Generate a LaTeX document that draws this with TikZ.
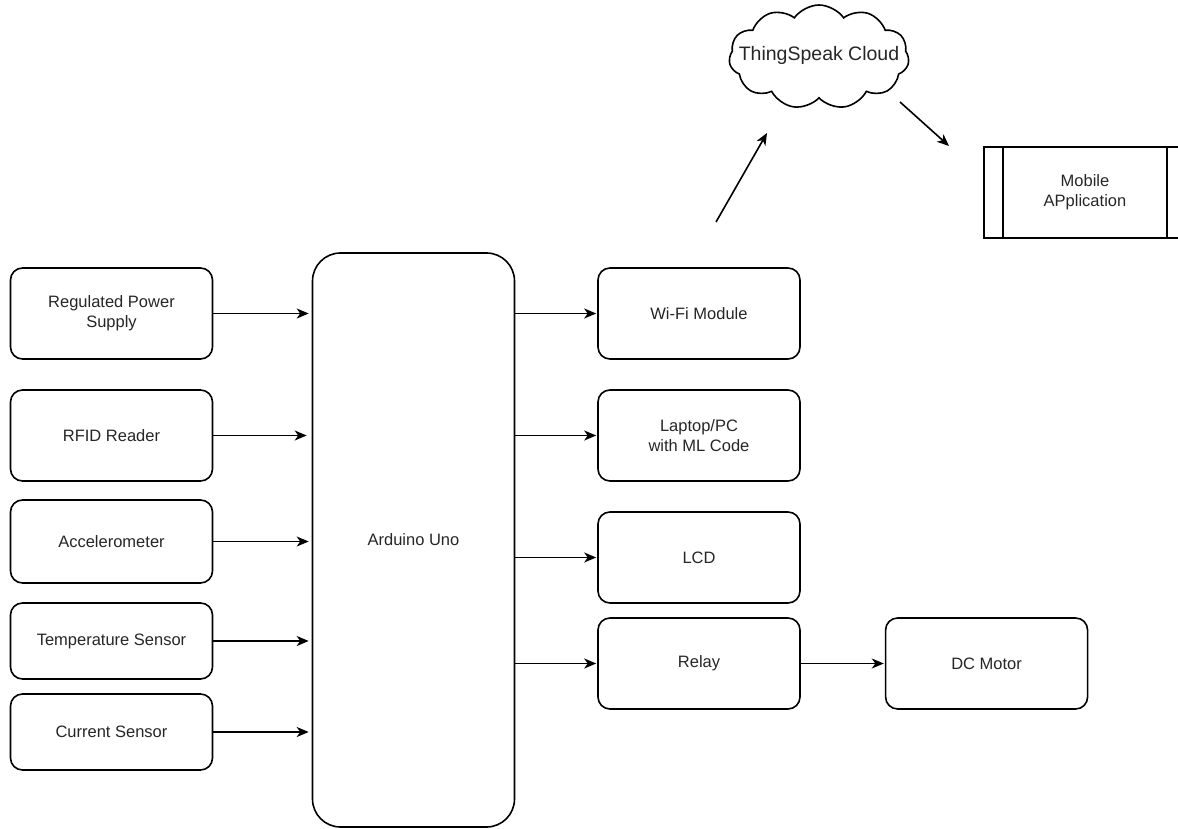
\documentclass[tikz,border=0pt]{standalone}
\usepackage{fontspec}
\setmainfont{Liberation Sans}
\usepackage{tikz}
\usetikzlibrary{arrows.meta,positioning,shapes.symbols}

\begin{document}
\begin{tikzpicture}[
  x=1pt, y=-1pt,
  block/.style={draw, line width=1.6pt, rounded corners=12pt, align=center,
    font=\fontsize{16.5}{20}\selectfont, text=black!85,
    minimum width=202pt, minimum height=91pt, inner sep=2pt},
  small/.style={block, minimum height=76pt},
  mcu/.style={block, rounded corners=28pt, minimum height=574pt},
  procbox/.style={draw, line width=1.6pt, align=center,
    font=\fontsize{16.5}{20}\selectfont, text=black!85,
    minimum width=202pt, minimum height=91pt},
  arrow/.style={-{Stealth[length=12pt, width=10pt, inset=3.5pt]}, line width=1.6pt},
]
\useasboundingbox (0,0) rectangle (1178,829);

% inputs
\node[block] (rps) at (111.5,313.5) {Regulated Power\\ Supply};
\node[block] (rfid) at (111.5,435.5) {RFID Reader};
\node[block, minimum height=83pt] (acc) at (111.5,541.5) {Accelerometer};
\node[small] (temp) at (111.5,641) {Temperature Sensor};
\node[small] (cur) at (111.5,732) {Current Sensor};

% controller
\node[mcu] (uno) at (413.5,540) {Arduino Uno};

% outputs
\node[block] (wifi) at (699,313.5) {Wi-Fi Module};
\node[block] (pc) at (699,435.5) {Laptop/PC\\ with ML Code};
\node[block] (lcd) at (699,557.5) {LCD};
\node[block] (relay) at (699,663.5) {Relay};
\node[block, right=84pt of relay] (motor) {DC Motor};

% cloud side
\node[cloud, draw, line width=1.6pt, cloud puffs=11, cloud puff arc=110, aspect=1.7,
  minimum width=180pt, minimum height=104pt,
  label={[font=\fontsize{19.5}{22}\selectfont, text=black!85, yshift=2pt]center:ThingSpeak Cloud}]
  (cloud) at (819,57) {};
\node[procbox] (app) at (1085,192.5) {Mobile\\ APplication};
\draw[line width=1.6pt] ([xshift=20pt]app.north west) -- ([xshift=20pt]app.south west);
\draw[line width=1.6pt] ([xshift=-20pt]app.north east) -- ([xshift=-20pt]app.south east);

\coordinate (upA) at (716,222);
\coordinate (upB) at (767,133);
\coordinate (dnA) at (900,102);
\coordinate (dnB) at (949,146);

\draw[arrow, shorten >=3pt] (rps) -- (rps -| uno.west);
\draw[arrow, shorten >=5pt] (rfid) -- (rfid -| uno.west);
\draw[arrow, shorten >=3pt] (acc) -- (acc -| uno.west);
\draw[arrow, shorten >=3pt] (temp) -- (temp -| uno.west);
\draw[arrow, shorten >=3pt] (cur) -- (cur -| uno.west);
\draw[arrow, shorten >=1pt] (wifi -| uno.east) -- (wifi);
\draw[arrow, shorten >=1pt] (pc -| uno.east) -- (pc);
\draw[arrow, shorten >=1pt] (lcd -| uno.east) -- (lcd);
\draw[arrow, shorten >=1pt] (relay -| uno.east) -- (relay);
\draw[arrow, shorten >=1pt] (relay) -- (motor);
\draw[arrow] (upA) -- (upB);
\draw[arrow] (dnA) -- (dnB);
\end{tikzpicture}
\end{document}
